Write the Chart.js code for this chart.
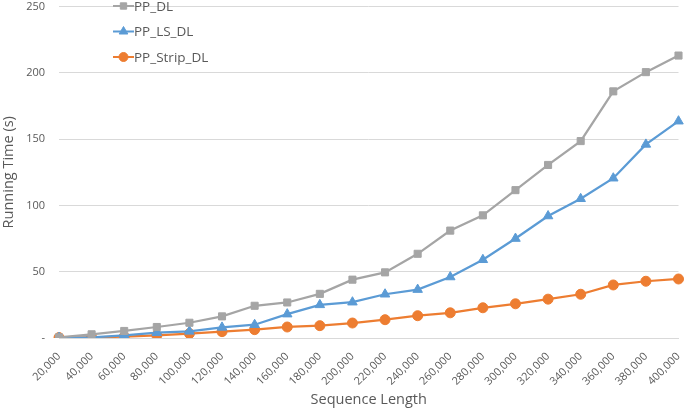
<!DOCTYPE html>
<html lang="en">
    <head>
        <meta charset="utf-8" />
        <script src="https://cdn.jsdelivr.net/npm/chart.js@4.4.0/dist/chart.umd.min.js"></script>
        <title>Running time vs sequence length</title>
        <style>
            body { margin: 0; background: #fff; }
            #caja { width: 685px; height: 411px; }
        </style>
    </head>
    <body>
        <div id="caja"><canvas id="grafico"></canvas></div>
        <script>
            var longitudes = ["20,000", "40,000", "60,000", "80,000", "100,000", "120,000", "140,000", "160,000", "180,000", "200,000",
                "220,000", "240,000", "260,000", "280,000", "300,000", "320,000", "340,000", "360,000", "380,000", "400,000"];
            var ppDL = [0.5, 2.8, 5.3, 8.3, 11.5, 16.3, 24.3, 26.8, 33.3, 44, 49.5, 63.5, 81, 92.5, 111.5, 130.5, 148.5, 186, 200.5, 213];
            var ppLsDL = [0.3, 0.5, 2, 4, 5, 8, 10, 18, 25, 27, 33, 36.5, 46, 59, 75, 92, 105, 120.5, 146, 163.5];
            var ppStripDL = [0.3, 0.5, 1, 2, 3.3, 4.8, 6.3, 8.3, 9.3, 11.3, 13.8, 16.8, 19, 22.8, 25.8, 29.3, 33, 40, 42.8, 44.5];
            var nombres = ["PP_DL", "PP_LS_DL", "PP_Strip_DL"];
            var colores = ["#A5A5A5", "#5B9BD5", "#ED7D31"];
            var marcas = ["rect", "triangle", "circle"];
            var ticksY = [0, 50, 100, 150, 200, 250];

            var fuente = "'Open Sans', sans-serif";
            var gris = "#595959";

            // leyenda dentro del area del grafico, como en Excel
            var leyendaDentro = {
                id: "leyendaDentro",
                afterDraw: function (chart) {
                    var ctx = chart.ctx;
                    chart.data.datasets.forEach(function (ds, i) {
                        var y = 6 + i * 25.5;
                        ctx.save();
                        ctx.strokeStyle = ds.borderColor;
                        ctx.fillStyle = ds.backgroundColor;
                        ctx.lineWidth = 2;
                        ctx.beginPath();
                        ctx.moveTo(113, y);
                        ctx.lineTo(134, y);
                        ctx.stroke();
                        ctx.lineWidth = 1;
                        Chart.helpers.drawPoint(ctx, { pointStyle: ds.pointStyle, radius: ds.pointRadius - 0.5, borderWidth: 1 }, 123.5, y);
                        ctx.fillStyle = gris;
                        ctx.font = "13.5px " + fuente;
                        ctx.textBaseline = "middle";
                        ctx.fillText(ds.label, 134, y + 1);
                        ctx.restore();
                    });
                },
            };

            new Chart(document.getElementById("grafico").getContext("2d"), {
                type: "line",
                data: {
                    labels: longitudes,
                    datasets: [ppDL, ppLsDL, ppStripDL].map(function (serie, i) {
                        return {
                            label: nombres[i],
                            data: serie,
                            borderColor: colores[i],
                            backgroundColor: colores[i],
                            pointStyle: marcas[i],
                            pointRadius: i == 0 ? 5 : (i == 1 ? 5.5 : 5),
                            pointBorderWidth: 1,
                            borderWidth: 2.25,
                            tension: 0,
                        };
                    }),
                },
                plugins: [leyendaDentro],
                options: {
                    responsive: true,
                    maintainAspectRatio: false,
                    animation: false,
                    layout: { padding: { top: 5, right: 5, left: 0, bottom: 0 } },
                    plugins: {
                        legend: { display: false },
                        tooltip: { enabled: false },
                    },
                    scales: {
                        x: {
                            offset: false,
                            grid: { display: false },
                            border: { color: "#D9D9D9" },
                            ticks: {
                                minRotation: 45,
                                maxRotation: 45,
                                autoSkip: false,
                                color: gris,
                                font: { family: fuente, size: 11 },
                                padding: 4,
                            },
                            title: {
                                display: true,
                                text: "Sequence Length",
                                color: gris,
                                font: { family: fuente, size: 14.5 },
                                padding: { top: 0, bottom: 2 },
                            },
                            afterFit: function (scale) {
                                scale.height = 73;
                                scale.paddingLeft = 0;
                                scale.paddingRight = 0;
                            },
                        },
                        y: {
                            min: 0,
                            max: 250,
                            afterBuildTicks: function (scale) {
                                scale.ticks = ticksY.map(function (v) { return { value: v }; });
                            },
                            grid: { color: "#D9D9D9", drawTicks: false },
                            border: { display: false },
                            ticks: {
                                color: gris,
                                font: { family: fuente, size: 11 },
                                padding: 14,
                                callback: function (v) { return v === 0 ? "-" : v; },
                            },
                            title: {
                                display: true,
                                text: "Running Time (s)",
                                color: gris,
                                font: { family: fuente, size: 14.5 },
                                padding: { top: 0, bottom: 0 },
                            },
                            afterFit: function (scale) {
                                scale.width = 59;
                                scale.paddingTop = 0;
                                scale.paddingBottom = 0;
                            },
                        },
                    },
                },
            });
        </script>
    </body>
</html>
